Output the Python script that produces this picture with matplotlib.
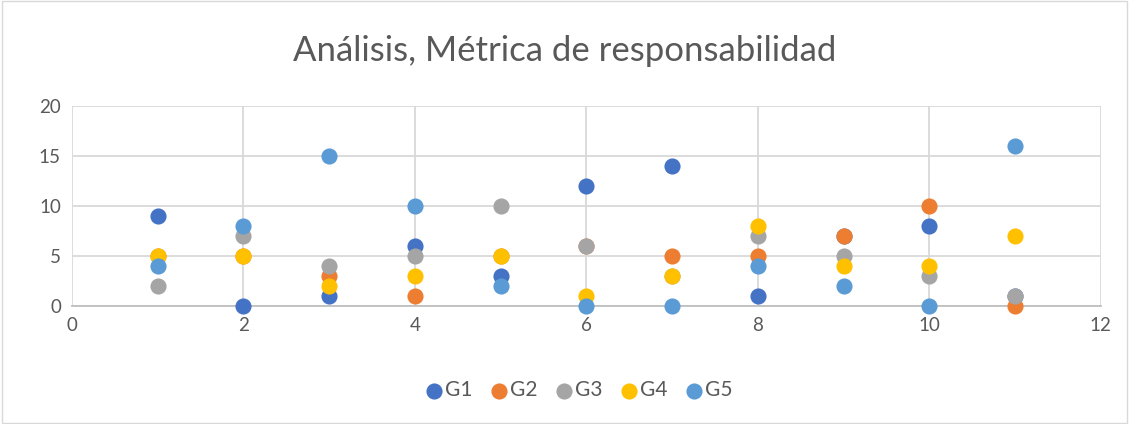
import matplotlib
matplotlib.use("Agg")
import matplotlib.pyplot as plt
from matplotlib.patches import Rectangle

plt.rcParams['font.family'] = ['Lato', 'DejaVu Sans']

x_vals = [1, 2, 3, 4, 5, 6, 7, 8, 9, 10, 11]
series_names = ["G1", "G2", "G3", "G4", "G5"]
g1 = [9, 0, 1, 6, 3, 12, 14, 1, 7, 8, 1]
g2 = [5, 5, 3, 1, 5, 6, 5, 5, 7, 10, 0]
g3 = [2, 7, 4, 5, 10, 6, 3, 7, 5, 3, 1]
g4 = [5, 5, 2, 3, 5, 1, 3, 8, 4, 4, 7]
g5 = [4, 8, 15, 10, 2, 0, 0, 4, 2, 0, 16]
colors = ["#4472C4", "#ED7D31", "#A5A5A5", "#FFC000", "#5B9BD5"]
title = "Análisis, Métrica de responsabilidad"

fig = plt.figure(figsize=(11.29, 4.24), dpi=100)
fig.patches.append(Rectangle((0.0015, 0.003), 0.997, 0.994, transform=fig.transFigure,
                             fill=False, edgecolor="#D9D9D9", linewidth=1))
ax = fig.add_axes([0.0638, 0.2783, 0.9112, 0.4717])

for name, ys, c in zip(series_names, [g1, g2, g3, g4, g5], colors):
    ax.scatter(x_vals, ys, s=135, color=c, label=name, zorder=3, linewidths=0, clip_on=False)

ax.set_xlim(0, 12)
ax.set_ylim(0, 20)
ax.set_xticks(range(0, 13, 2))
ax.set_yticks(range(0, 21, 5))
ax.grid(True, color="#D9D9D9", linewidth=1.3, zorder=0)
ax.set_axisbelow(True)
for s in ["top", "right", "left"]:
    ax.spines[s].set_visible(False)
ax.spines["bottom"].set_color("#BFBFBF")
ax.spines["bottom"].set_linewidth(1.3)
ax.spines["bottom"].set_zorder(1)
ax.tick_params(length=0, labelsize=13.5, colors="#595959", pad=8)

fig.text(0.5, 0.88, title, ha="center", va="center", fontsize=25, color="#595959")

fig.legend(loc="center", bbox_to_anchor=(0.51, 0.08), ncol=5, frameon=False,
           fontsize=15, handletextpad=-0.2, columnspacing=0.6, markerscale=1.0,
           labelcolor="#595959", handlelength=1.4)

fig.savefig("out.png", dpi=100)
